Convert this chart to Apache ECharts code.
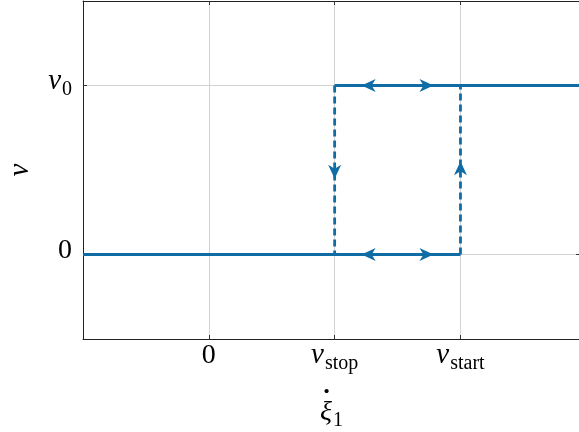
<!DOCTYPE html>
<html>
<head>
<meta charset="utf-8">
<script src="https://cdn.jsdelivr.net/npm/echarts@6/dist/echarts.min.js"></script>
<style>html,body{margin:0;padding:0;background:#fff}#c{width:579px;height:432px}</style>
</head>
<body>
<div id="c"></div>
<script>
// ---- data ----
const xTicks = [0, 1, 2];
const xTickLabels = ['{n|0}', '{i|v}{s|stop}', '{i|v}{s|start}'];
const yTicks = [0, 1];
const yTickLabels = ['{n|0}', '{i|v}{s|0}'];
const yAxisTitle = 'v';
const xRange = [-1, 2.95];
const yRange = [-0.5, 1.5];
const lowerSolid = [[-1, 0], [2, 0]];
const upperSolid = [[1, 1], [2.95, 1]];
const jumpUp = [[2, 0], [2, 1]];
const dropDown = [[1, 1], [1, 0]];
const arrowsLeft = [[1.27, 0], [1.27, 1]];
const arrowsRight = [[1.73, 0], [1.73, 1]];
const arrowDown = [[1, 0.49]];
const arrowUp = [[2, 0.51]];

const BLUE = '#0f6ca5';
const FONT = 'Liberation Serif';
const rich = {
  n: {fontFamily: FONT, fontSize: 28, color: '#000', lineHeight: 28, verticalAlign: 'bottom', padding: [0, 0, 4, 0]},
  i: {fontFamily: FONT, fontStyle: 'italic', fontSize: 29, color: '#000', lineHeight: 28, verticalAlign: 'bottom', padding: [0, 1, 4, 0]},
  g: {fontFamily: FONT, fontStyle: 'italic', fontSize: 28, color: '#000', lineHeight: 26, verticalAlign: 'bottom', padding: [0, 1, 4, 0]},
  d: {fontFamily: FONT, fontSize: 26, fontWeight: 'bold', color: '#000', lineHeight: 8, verticalAlign: 'bottom', padding: [0, 10, 0, 0]},
  s: {fontFamily: FONT, fontSize: 20, color: '#000', lineHeight: 20, verticalAlign: 'bottom'}
};
const arrowPath = 'path://M0,14 L6,0 L12,14 L6,10 Z';

const chart = echarts.init(document.getElementById('c'), null, {renderer: 'canvas'});
const axisLine = {show: true, onZero: false, lineStyle: {color: '#222', width: 1}};
const tick = (vals) => ({show: true, inside: true, length: 4, customValues: vals, lineStyle: {color: '#333', width: 1}});
const split = {show: true, lineStyle: {color: '#d2d2d2', width: 1}};

chart.setOption({
  animation: false,
  backgroundColor: '#fff',
  grid: {left: 83, top: 1, width: 497, height: 338, containLabel: false, outerBoundsMode: 'none'},
  graphic: [{
    type: 'text', x: 20, y: 170, rotation: Math.PI / 2, silent: true,
    style: {text: yAxisTitle, textAlign: 'center', textVerticalAlign: 'middle',
            font: 'italic 29px "Liberation Serif"', fill: '#000'}
  }],
  xAxis: [
    {type: 'value', min: xRange[0], max: xRange[1], position: 'bottom',
     axisLine, axisTick: tick(xTicks), splitLine: split,
     axisLabel: {customValues: xTicks, margin: 7, formatter: v => { const k = xTicks.indexOf(v); return k < 0 ? '' : xTickLabels[k]; }, rich},
     name: '{d|·}\n{g|ξ}{s|1}', nameLocation: 'middle', nameGap: 44, nameTextStyle: {rich, align: 'center'}},
    {type: 'value', min: xRange[0], max: xRange[1], position: 'top',
     axisLine, axisTick: tick(xTicks), splitLine: {show: false}, axisLabel: {show: false}}
  ],
  yAxis: [
    {type: 'value', min: yRange[0], max: yRange[1], position: 'left',
     axisLine, axisTick: tick(yTicks), splitLine: split,
     axisLabel: {customValues: yTicks, margin: 11, formatter: v => { const k = yTicks.indexOf(v); return k < 0 ? '' : yTickLabels[k]; }, rich}},
    {type: 'value', min: yRange[0], max: yRange[1], position: 'right',
     axisLine, axisTick: tick(yTicks), splitLine: {show: false}, axisLabel: {show: false}}
  ],
  series: [
    {type: 'line', data: lowerSolid, showSymbol: false, lineStyle: {color: BLUE, width: 2.8}, z: 3},
    {type: 'line', data: upperSolid, showSymbol: false, lineStyle: {color: BLUE, width: 2.8}, z: 3},
    {type: 'line', data: jumpUp, showSymbol: false, lineStyle: {color: BLUE, width: 2.8, type: [7, 4]}, z: 3},
    {type: 'line', data: dropDown, showSymbol: false, lineStyle: {color: BLUE, width: 2.8, type: [7, 4]}, z: 3},
    {type: 'scatter', data: arrowsLeft, symbol: arrowPath, symbolSize: [13, 14], symbolRotate: 90, itemStyle: {color: BLUE, opacity: 1}, z: 4},
    {type: 'scatter', data: arrowsRight, symbol: arrowPath, symbolSize: [13, 14], symbolRotate: -90, itemStyle: {color: BLUE, opacity: 1}, z: 4},
    {type: 'scatter', data: arrowDown, symbol: arrowPath, symbolSize: [13, 14], symbolRotate: 180, itemStyle: {color: BLUE, opacity: 1}, z: 4},
    {type: 'scatter', data: arrowUp, symbol: arrowPath, symbolSize: [13, 14], symbolRotate: 0, itemStyle: {color: BLUE, opacity: 1}, z: 4}
  ]
});
</script>
</body>
</html>
